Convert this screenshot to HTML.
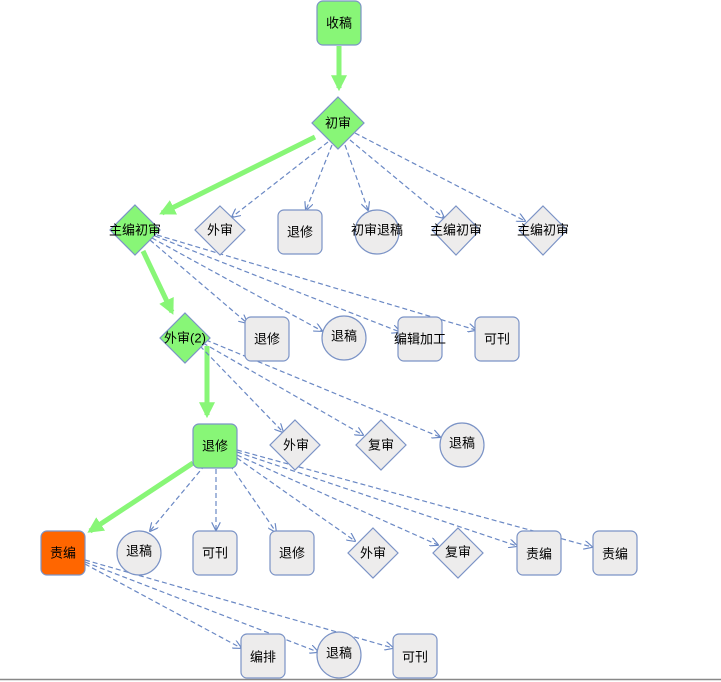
<!DOCTYPE html>
<html><head><meta charset="utf-8"><style>
html,body{margin:0;padding:0;background:#fff;width:721px;height:682px;overflow:hidden}
text{font-family:"Liberation Sans","Noto Sans CJK SC",sans-serif;font-size:13px;fill:#000;text-anchor:middle;dominant-baseline:central}
.g{fill:#edecec;stroke:#7b93c6;stroke-width:1.2}
.gr{fill:#88f677;stroke:#7b93c6;stroke-width:1.2}
.d{stroke:#6a88c4;stroke-width:1.2;stroke-dasharray:5,3;fill:none;marker-end:url(#a)}
.t{stroke:#88f677;stroke-width:5;fill:none;marker-end:url(#b)}
</style></head><body>
<svg width="721" height="682" viewBox="0 0 721 682" xmlns="http://www.w3.org/2000/svg">
<defs>
<marker id="a" viewBox="0 0 10 10" refX="9" refY="5" markerWidth="9" markerHeight="9" orient="auto" markerUnits="userSpaceOnUse"><path d="M0,0 L10,5 L0,10" fill="none" stroke="#6a88c4" stroke-width="1.3"/></marker>
<marker id="b" viewBox="0 0 10 10" refX="8" refY="5" markerWidth="16" markerHeight="16" orient="auto" markerUnits="userSpaceOnUse"><path d="M0,0 L10,5 L0,10 z" fill="#88f677"/></marker>
</defs>
<line x1="0" y1="679.5" x2="721" y2="679.5" stroke="#888" stroke-width="1.5"/>
<!-- edges -->
<line class="t" x1="339" y1="46" x2="339" y2="88"/>
<line class="t" x1="315" y1="137" x2="162" y2="213"/>
<line class="t" x1="143" y1="251" x2="172" y2="312"/>
<line class="t" x1="207" y1="346" x2="207" y2="415"/>
<line class="t" x1="193" y1="463" x2="90" y2="531"/>
<g>
<line class="d" x1="328" y1="142" x2="232" y2="217"/>
<line class="d" x1="332" y1="145" x2="306" y2="210"/>
<line class="d" x1="345" y1="145" x2="368" y2="210"/>
<line class="d" x1="350" y1="140" x2="444" y2="218"/>
<line class="d" x1="355" y1="133" x2="525" y2="221"/>
<line class="d" x1="150" y1="240" x2="247" y2="323"/>
<line class="d" x1="152" y1="238" x2="322" y2="331"/>
<line class="d" x1="155" y1="236" x2="400" y2="332"/>
<line class="d" x1="157" y1="235" x2="476" y2="330"/>
<line class="d" x1="200" y1="346" x2="283" y2="432"/>
<line class="d" x1="203" y1="343" x2="363" y2="435"/>
<line class="d" x1="206" y1="340" x2="440" y2="437"/>
<line class="d" x1="205" y1="465" x2="150" y2="531"/>
<line class="d" x1="216" y1="469" x2="216" y2="530"/>
<line class="d" x1="230" y1="465" x2="276" y2="532"/>
<line class="d" x1="237" y1="458" x2="355" y2="541"/>
<line class="d" x1="237" y1="455" x2="438" y2="545"/>
<line class="d" x1="237" y1="452" x2="517" y2="546"/>
<line class="d" x1="237" y1="450" x2="592" y2="547"/>
<line class="d" x1="85" y1="564" x2="241" y2="648"/>
<line class="d" x1="85" y1="562" x2="318" y2="652"/>
<line class="d" x1="85" y1="560" x2="393" y2="648"/>
</g>
<!-- nodes -->
<rect class="gr" x="317" y="1" width="44" height="44" rx="6"/><text x="339" y="23">收稿</text>
<path class="gr" d="M338,97 L364,123 L338,149 L312,123z"/><text x="338" y="123">初审</text>
<path class="gr" d="M135,205 L160,230 L135,255 L110,230z"/><text x="135" y="230">主编初审</text>
<path class="g" d="M220,206 L245,230 L220,255 L195,230z"/><text x="220" y="230">外审</text>
<rect class="g" x="278" y="210" width="44" height="44" rx="6"/><text x="300" y="232">退修</text>
<circle class="g" cx="377" cy="232" r="22"/><text x="377" y="230">初审退稿</text>
<path class="g" d="M456,206 L480,230 L456,255 L432,230z"/><text x="456" y="230">主编初审</text>
<path class="g" d="M543,206 L567,230 L543,255 L519,230z"/><text x="543" y="230">主编初审</text>
<path class="gr" d="M185,313 L210,338 L185,363 L160,338z"/><text x="185" y="338">外审(2)</text>
<rect class="g" x="245" y="317" width="44" height="44" rx="6"/><text x="267" y="339">退修</text>
<circle class="g" cx="344" cy="338" r="22"/><text x="344" y="336">退稿</text>
<rect class="g" x="398" y="317" width="44" height="44" rx="6"/><text x="420" y="339">编辑加工</text>
<rect class="g" x="475" y="317" width="44" height="44" rx="6"/><text x="497" y="339">可刊</text>
<rect class="gr" x="193" y="424" width="44" height="44" rx="6"/><text x="215" y="446">退修</text>
<path class="g" d="M295,420 L320,445 L295,470 L270,445z"/><text x="296" y="445">外审</text>
<path class="g" d="M381,420 L406,445 L381,470 L356,445z"/><text x="381" y="445">复审</text>
<circle class="g" cx="462" cy="445" r="22"/><text x="462" y="443">退稿</text>
<rect x="41" y="531" width="44" height="44" rx="6" fill="#ff6600" stroke="#7b93c6" stroke-width="1.2"/><text x="63" y="553">责编</text>
<circle class="g" cx="139" cy="553" r="22"/><text x="139" y="551">退稿</text>
<rect class="g" x="193" y="531" width="44" height="44" rx="6"/><text x="215" y="553">可刊</text>
<rect class="g" x="270" y="531" width="44" height="44" rx="6"/><text x="292" y="553">退修</text>
<path class="g" d="M373,528 L398,553 L373,578 L348,553z"/><text x="373" y="553">外审</text>
<path class="g" d="M458,528 L483,553 L458,578 L433,553z"/><text x="458" y="552">复审</text>
<rect class="g" x="517" y="531" width="44" height="44" rx="6"/><text x="539" y="554">责编</text>
<rect class="g" x="593" y="531" width="44" height="44" rx="6"/><text x="615" y="554">责编</text>
<rect class="g" x="241" y="634" width="44" height="44" rx="6"/><text x="263" y="657">编排</text>
<ellipse class="g" cx="339" cy="655" rx="22" ry="23"/><text x="339" y="653">退稿</text>
<rect class="g" x="393" y="634" width="44" height="44" rx="6"/><text x="415" y="657">可刊</text>
</svg>
</body></html>
